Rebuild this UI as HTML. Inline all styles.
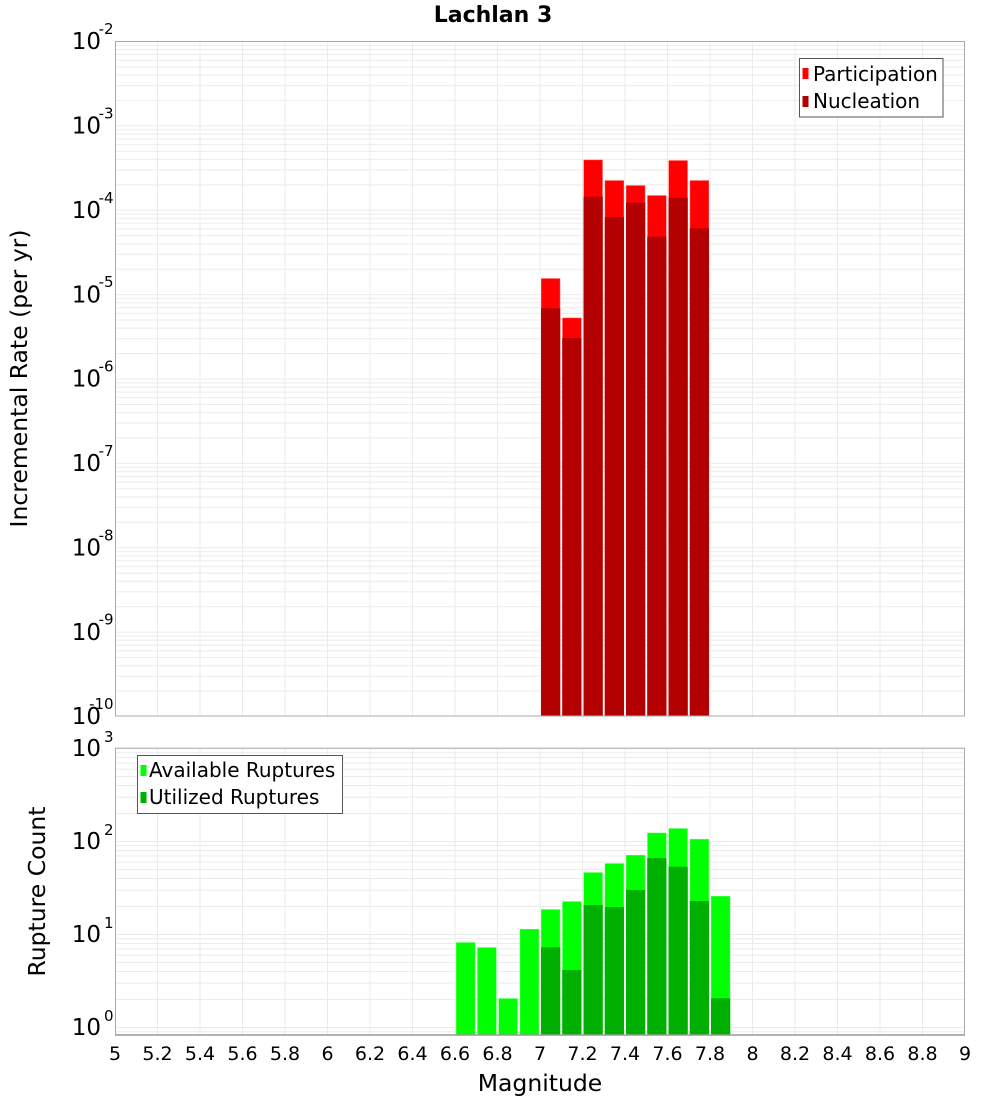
<!DOCTYPE html>
<html><head><meta charset="utf-8"><style>
html,body{margin:0;padding:0;background:#fff;}
svg{display:block;}
text{font-family:"DejaVu Sans","Liberation Sans",sans-serif;fill:#000;}
</style></head><body>
<svg width="1000" height="1100" viewBox="0 0 1000 1100" xmlns="http://www.w3.org/2000/svg">
<defs>
<pattern id="gt" patternUnits="userSpaceOnUse" x="0" y="41" width="1000" height="84.375">
<g fill="#ebebeb">
<rect x="0" y="0" width="1000" height="1"/>
<rect x="0" y="3.86" width="1000" height="1"/>
<rect x="0" y="8.18" width="1000" height="1"/>
<rect x="0" y="13.07" width="1000" height="1"/>
<rect x="0" y="18.72" width="1000" height="1"/>
<rect x="0" y="25.40" width="1000" height="1"/>
<rect x="0" y="33.58" width="1000" height="1"/>
<rect x="0" y="44.12" width="1000" height="1"/>
<rect x="0" y="58.98" width="1000" height="1"/>
</g>
</pattern>
<pattern id="gb" patternUnits="userSpaceOnUse" x="0" y="748" width="1000" height="93">
<g fill="#ebebeb">
<rect x="0" y="0" width="1000" height="1"/>
<rect x="0" y="4.26" width="1000" height="1"/>
<rect x="0" y="9.01" width="1000" height="1"/>
<rect x="0" y="14.41" width="1000" height="1"/>
<rect x="0" y="20.63" width="1000" height="1"/>
<rect x="0" y="28.00" width="1000" height="1"/>
<rect x="0" y="37.01" width="1000" height="1"/>
<rect x="0" y="48.63" width="1000" height="1"/>
<rect x="0" y="65.00" width="1000" height="1"/>
</g>
</pattern>
</defs>
<rect x="0" y="0" width="1000" height="1100" fill="#fff"/>

<!-- Title -->
<text x="493" y="22" font-size="22" font-weight="bold" text-anchor="middle">Lachlan 3</text>

<!-- ===== TOP PLOT ===== -->
<rect x="115" y="41" width="850" height="675" fill="url(#gt)"/>
<g stroke="#ebebeb" stroke-width="1">
<line x1="157.5" y1="41" x2="157.5" y2="716"/><line x1="200" y1="41" x2="200" y2="716"/>
<line x1="242.5" y1="41" x2="242.5" y2="716"/><line x1="285" y1="41" x2="285" y2="716"/>
<line x1="327.5" y1="41" x2="327.5" y2="716"/><line x1="370" y1="41" x2="370" y2="716"/>
<line x1="412.5" y1="41" x2="412.5" y2="716"/><line x1="455" y1="41" x2="455" y2="716"/>
<line x1="497.5" y1="41" x2="497.5" y2="716"/><line x1="540" y1="41" x2="540" y2="716"/>
<line x1="582.5" y1="41" x2="582.5" y2="716"/><line x1="625" y1="41" x2="625" y2="716"/>
<line x1="667.5" y1="41" x2="667.5" y2="716"/><line x1="710" y1="41" x2="710" y2="716"/>
<line x1="752.5" y1="41" x2="752.5" y2="716"/><line x1="795" y1="41" x2="795" y2="716"/>
<line x1="837.5" y1="41" x2="837.5" y2="716"/><line x1="880" y1="41" x2="880" y2="716"/>
<line x1="922.5" y1="41" x2="922.5" y2="716"/>
</g>
<!-- participation -->
<g fill="#ff0000" stroke="#ffffff" stroke-opacity="0.35" stroke-width="1">
<rect x="541" y="278.3" width="19.25" height="437.7"/>
<rect x="562.25" y="317.7" width="19.25" height="398.3"/>
<rect x="583.5" y="159.7" width="19.25" height="556.3"/>
<rect x="604.75" y="180.3" width="19.25" height="535.7"/>
<rect x="626" y="185.3" width="19.25" height="530.7"/>
<rect x="647.25" y="195.3" width="19.25" height="520.7"/>
<rect x="668.5" y="160.3" width="19.25" height="555.7"/>
<rect x="689.75" y="180.3" width="19.25" height="535.7"/>
</g>
<!-- nucleation -->
<g fill="#b30000">
<rect x="541" y="308.3" width="19.25" height="407.7"/>
<rect x="562.25" y="338" width="19.25" height="378"/>
<rect x="583.5" y="196.7" width="19.25" height="519.3"/>
<rect x="604.75" y="217" width="19.25" height="499"/>
<rect x="626" y="202.7" width="19.25" height="513.3"/>
<rect x="647.25" y="236.7" width="19.25" height="479.3"/>
<rect x="668.5" y="197.7" width="19.25" height="518.3"/>
<rect x="689.75" y="228.3" width="19.25" height="487.7"/>
</g>
<rect x="115.5" y="41.5" width="849" height="674.5" fill="none" stroke="#aaaaaa" stroke-width="1"/>

<!-- top legend -->
<rect x="799.5" y="58.5" width="143.5" height="58.5" fill="#fff" stroke="#555" stroke-width="1"/>
<rect x="802.5" y="68" width="6" height="11" fill="#ff0000"/>
<text x="813" y="81" font-size="20">Participation</text>
<rect x="802.5" y="96" width="6" height="11" fill="#b30000"/>
<text x="813" y="108" font-size="20">Nucleation</text>

<!-- top y tick labels -->
<g font-size="23" text-anchor="end">
<text x="101" y="49.2">10</text>
<text x="101" y="133.6">10</text>
<text x="101" y="218">10</text>
<text x="101" y="302.3">10</text>
<text x="101" y="386.7">10</text>
<text x="101" y="471.1">10</text>
<text x="101" y="555.5">10</text>
<text x="101" y="639.8">10</text>
<text x="101" y="724.2">10</text>
</g>
<g font-size="15" text-anchor="end">
<text x="113.6" y="34">-2</text>
<text x="113.6" y="118.4">-3</text>
<text x="113.6" y="202.8">-4</text>
<text x="113.6" y="287.1">-5</text>
<text x="113.6" y="371.5">-6</text>
<text x="113.6" y="455.9">-7</text>
<text x="113.6" y="540.3">-8</text>
<text x="113.6" y="624.6">-9</text>
<text x="113.6" y="709">-10</text>
</g>
<text transform="translate(27,378.5) rotate(-90)" font-size="23.5" text-anchor="middle">Incremental Rate (per yr)</text>

<!-- ===== BOTTOM PLOT ===== -->
<rect x="115" y="748" width="850" height="287.3" fill="url(#gb)"/>
<g stroke="#ebebeb" stroke-width="1">
<line x1="157.5" y1="748" x2="157.5" y2="1035"/><line x1="200" y1="748" x2="200" y2="1035"/>
<line x1="242.5" y1="748" x2="242.5" y2="1035"/><line x1="285" y1="748" x2="285" y2="1035"/>
<line x1="327.5" y1="748" x2="327.5" y2="1035"/><line x1="370" y1="748" x2="370" y2="1035"/>
<line x1="412.5" y1="748" x2="412.5" y2="1035"/><line x1="455" y1="748" x2="455" y2="1035"/>
<line x1="497.5" y1="748" x2="497.5" y2="1035"/><line x1="540" y1="748" x2="540" y2="1035"/>
<line x1="582.5" y1="748" x2="582.5" y2="1035"/><line x1="625" y1="748" x2="625" y2="1035"/>
<line x1="667.5" y1="748" x2="667.5" y2="1035"/><line x1="710" y1="748" x2="710" y2="1035"/>
<line x1="752.5" y1="748" x2="752.5" y2="1035"/><line x1="795" y1="748" x2="795" y2="1035"/>
<line x1="837.5" y1="748" x2="837.5" y2="1035"/><line x1="880" y1="748" x2="880" y2="1035"/>
<line x1="922.5" y1="748" x2="922.5" y2="1035"/>
</g>
<!-- available -->
<g fill="#00ff00" stroke="#ffffff" stroke-opacity="0.35" stroke-width="1">
<rect x="456" y="942.3" width="19.25" height="93"/>
<rect x="477.25" y="947.3" width="19.25" height="88"/>
<rect x="498.5" y="998.3" width="19.25" height="37"/>
<rect x="519.75" y="929" width="19.25" height="106.3"/>
<rect x="541" y="909.3" width="19.25" height="126"/>
<rect x="562.25" y="901.3" width="19.25" height="134"/>
<rect x="583.5" y="872.3" width="19.25" height="163"/>
<rect x="604.75" y="863.3" width="19.25" height="172"/>
<rect x="626" y="855" width="19.25" height="180.3"/>
<rect x="647.25" y="832.7" width="19.25" height="202.6"/>
<rect x="668.5" y="828.3" width="19.25" height="207"/>
<rect x="689.75" y="839" width="19.25" height="196.3"/>
<rect x="711" y="896" width="19.25" height="139.3"/>
</g>
<!-- utilized -->
<g fill="#00b000">
<rect x="541" y="947.3" width="19.25" height="88"/>
<rect x="562.25" y="970" width="19.25" height="65.3"/>
<rect x="583.5" y="905" width="19.25" height="130.3"/>
<rect x="604.75" y="907" width="19.25" height="128.3"/>
<rect x="626" y="890" width="19.25" height="145.3"/>
<rect x="647.25" y="858" width="19.25" height="177.3"/>
<rect x="668.5" y="866.7" width="19.25" height="168.6"/>
<rect x="689.75" y="901" width="19.25" height="134.3"/>
<rect x="711" y="998.3" width="19.25" height="37"/>
</g>
<rect x="115.5" y="748.2" width="849" height="286.8" fill="none" stroke="#aaaaaa" stroke-width="1"/>
<line x1="115" y1="1035" x2="965" y2="1035" stroke="#999" stroke-width="1.5"/>

<!-- bottom legend -->
<rect x="137.5" y="755.5" width="205" height="58" fill="#fff" stroke="#555" stroke-width="1"/>
<rect x="140.5" y="765" width="6" height="11" fill="#00ff00"/>
<text x="149" y="777" font-size="20">Available Ruptures</text>
<rect x="140.5" y="792" width="6" height="11" fill="#00b000"/>
<text x="149" y="804" font-size="20">Utilized Ruptures</text>

<!-- bottom y tick labels -->
<g font-size="23" text-anchor="end">
<text x="101" y="756.2">10</text>
<text x="101" y="849.2">10</text>
<text x="101" y="942.2">10</text>
<text x="101" y="1035.2">10</text>
</g>
<g font-size="15" text-anchor="end">
<text x="113.6" y="742">3</text>
<text x="113.6" y="835">2</text>
<text x="113.6" y="928">1</text>
<text x="113.6" y="1021">0</text>
</g>
<text transform="translate(45,891.5) rotate(-90)" font-size="23.5" text-anchor="middle">Rupture Count</text>

<!-- x tick labels -->
<g font-size="19" text-anchor="middle">
<text x="115" y="1060">5</text>
<text x="157.5" y="1060">5.2</text>
<text x="200" y="1060">5.4</text>
<text x="242.5" y="1060">5.6</text>
<text x="285" y="1060">5.8</text>
<text x="327.5" y="1060">6</text>
<text x="370" y="1060">6.2</text>
<text x="412.5" y="1060">6.4</text>
<text x="455" y="1060">6.6</text>
<text x="497.5" y="1060">6.8</text>
<text x="540" y="1060">7</text>
<text x="582.5" y="1060">7.2</text>
<text x="625" y="1060">7.4</text>
<text x="667.5" y="1060">7.6</text>
<text x="710" y="1060">7.8</text>
<text x="752.5" y="1060">8</text>
<text x="795" y="1060">8.2</text>
<text x="837.5" y="1060">8.4</text>
<text x="880" y="1060">8.6</text>
<text x="922.5" y="1060">8.8</text>
<text x="965" y="1060">9</text>
</g>
<text x="540" y="1091" font-size="23.5" text-anchor="middle">Magnitude</text>
</svg>
</body></html>
